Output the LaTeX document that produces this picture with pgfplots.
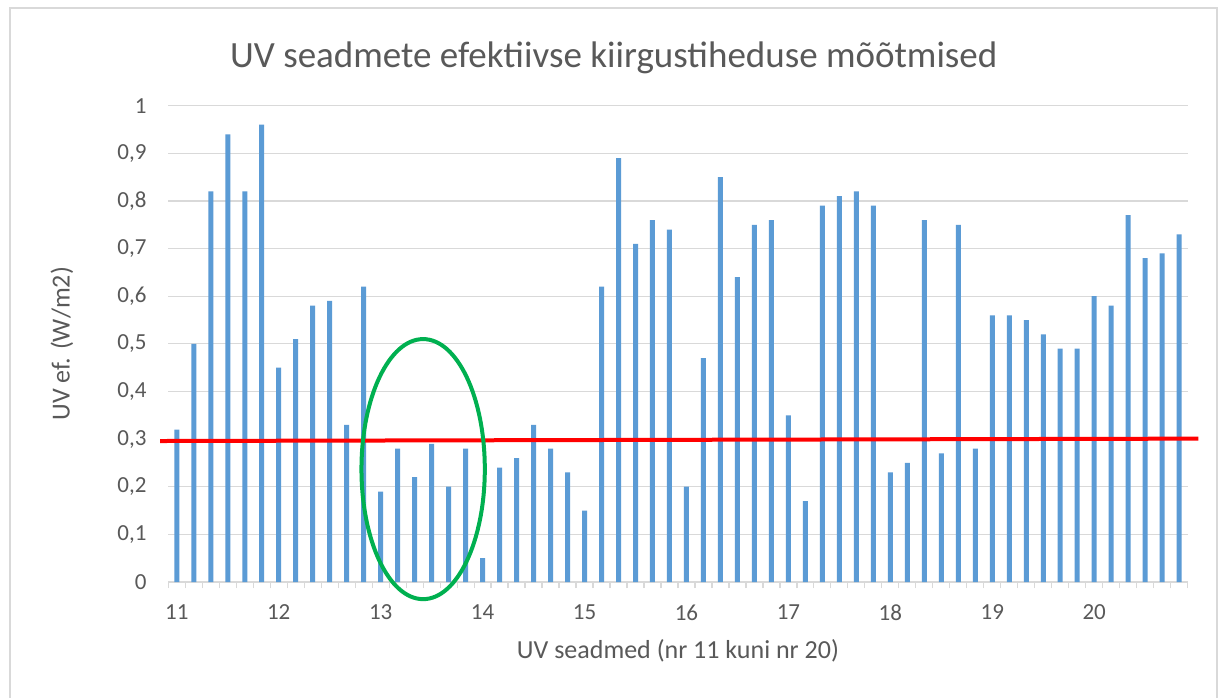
\documentclass[border=0pt]{standalone}
\usepackage{pgfplots}
\pgfplotsset{compat=1.18}
\usepackage{fontspec}
\setmainfont{Carlito}
\definecolor{barblue}{HTML}{5B9BD5}
\definecolor{txtgrey}{HTML}{595959}
\definecolor{gridgrey}{HTML}{D9D9D9}
\definecolor{ellgreen}{HTML}{00B050}
\begin{document}
\begin{tikzpicture}[x=1pt,y=1pt]
\useasboundingbox (0,0) rectangle (1221,697);
\fill[white] (0,0) rectangle (1221,697);
\draw[gridgrey, line width=1.2pt] (10,-5) -- (10,689) -- (1217,689) -- (1217,-5);
\begin{axis}[
  at={(168.3pt,115pt)}, anchor=south west,
  scale only axis, width=1019.4pt, height=476.3pt,
  xmin=-0.5, xmax=59.5, ymin=0, ymax=1,
  clip=false,
  separate axis lines,
  axis x line*=bottom,
  axis y line*=left,
  x axis line style={gridgrey, line width=1.2pt, -},
  y axis line style={draw=none},
  xtick={0,6,...,54},
  xticklabels={11,12,13,14,15,16,17,18,19,20},
  major x tick style={draw=none},
  minor xtick={-0.5,0.5,...,59.5},
  minor x tick style={gridgrey, line width=1.2pt},
  minor tick length=6pt,
  tick align=outside,
  ytick style={draw=none},
  xticklabel style={font=\fontsize{23}{26}\selectfont, text=txtgrey, yshift=-15pt},
  ytick={0,0.1,...,1},
  yticklabels={0,{0,1},{0,2},{0,3},{0,4},{0,5},{0,6},{0,7},{0,8},{0,9},1},
  yticklabel style={font=\fontsize{23}{26}\selectfont, text=txtgrey, xshift=-14pt},
  ymajorgrids,
  major grid style={gridgrey, line width=1.2pt},
  title={UV seadmete efektiivse kiirgustiheduse mõõtmised},
  title style={font=\fontsize{37}{42}\selectfont, text=txtgrey, at={(0.437,1)}, yshift=22pt},
  xlabel={UV seadmed (nr 11 kuni nr 20)},
  xlabel style={font=\fontsize{26}{30}\selectfont, text=txtgrey, yshift=-12pt},
  ylabel={UV ef. (W/m2)},
  ylabel style={font=\fontsize{26}{30}\selectfont, text=txtgrey, at={(axis description cs:-0.1043,0.5)}, anchor=center},
]
\addplot[ybar, bar width=5pt, fill=barblue, draw=none] coordinates {
(0,0.32) (1,0.50) (2,0.82) (3,0.94) (4,0.82) (5,0.96)
(6,0.45) (7,0.51) (8,0.58) (9,0.59) (10,0.33) (11,0.62)
(12,0.19) (13,0.28) (14,0.22) (15,0.29) (16,0.20) (17,0.28)
(18,0.05) (19,0.24) (20,0.26) (21,0.33) (22,0.28) (23,0.23)
(24,0.15) (25,0.62) (26,0.89) (27,0.71) (28,0.76) (29,0.74)
(30,0.20) (31,0.47) (32,0.85) (33,0.64) (34,0.75) (35,0.76)
(36,0.35) (37,0.17) (38,0.79) (39,0.81) (40,0.82) (41,0.79)
(42,0.23) (43,0.25) (44,0.76) (45,0.27) (46,0.75) (47,0.28)
(48,0.56) (49,0.56) (50,0.55) (51,0.52) (52,0.49) (53,0.49)
(54,0.60) (55,0.58) (56,0.77) (57,0.68) (58,0.69) (59,0.73)
};
\addplot[red, line width=4pt, no markers] coordinates {(-0.98,0.296) (60.13,0.301)};
\draw[ellgreen, line width=4pt] (axis cs:14.5,0.237) ellipse [x radius=3.63, y radius=0.273];
\end{axis}
\end{tikzpicture}
\end{document}
